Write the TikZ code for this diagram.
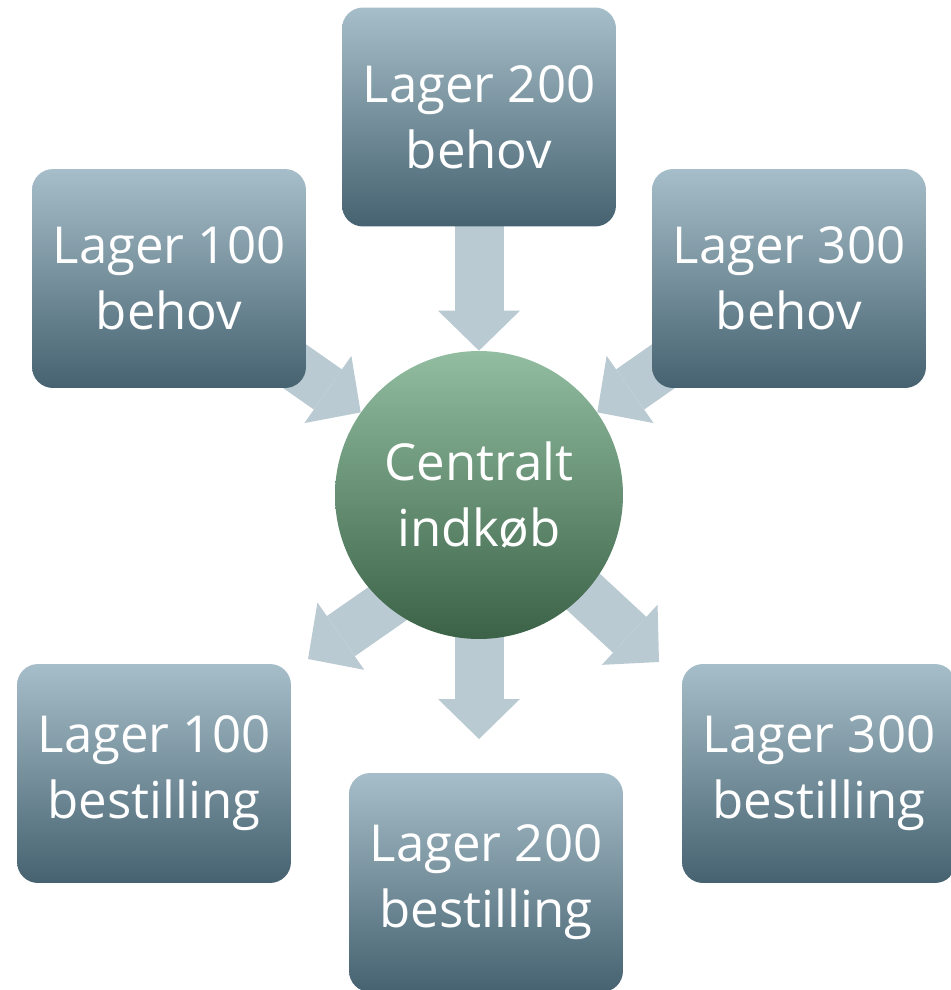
\documentclass[tikz,border=0pt]{standalone}
\usepackage{fontspec}
\setmainfont{Open Sans}
\usepackage{xcolor}
\usepackage{tikz}
\usetikzlibrary{arrows.meta}
\usetikzlibrary{backgrounds}

\definecolor{lagertop}{HTML}{A6BEC9}
\definecolor{lagermid}{HTML}{7799AA}
\definecolor{lagerbot}{HTML}{466270}
\definecolor{centop}{HTML}{92BDA0}
\definecolor{cenmid}{HTML}{5A9570}
\definecolor{cenbot}{HTML}{3B6247}
\definecolor{flowgrey}{HTML}{BACAD2}

\begin{document}
\begin{tikzpicture}[x=0.02cm, y=-0.02cm,
    lager/.style={rectangle, rounded corners=0.42cm, inner sep=0pt,
      minimum width=5.48cm, minimum height=4.38cm,
      top color=lagertop, middle color=lagermid, bottom color=lagerbot,
      text=white, align=center, font=\fontsize{29}{37.6}\selectfont},
    central/.style={circle, inner sep=0pt, minimum size=5.76cm,
      top color=centop, middle color=cenmid, bottom color=cenbot,
      text=white, align=center, font=\fontsize{29}{37.6}\selectfont},
    flow/.style={draw, color=flowgrey, line width=0.98cm,
      -{Triangle[length=0.8cm, width=1.64cm, line width=0pt, fill=flowgrey]}}]
      \useasboundingbox (0,0) rectangle (950,990);
      % behov
      \node[lager]   (beh200)  at (479,117)   {Lager 200\\behov};
      \node[lager]   (beh100)  at (169,278.5) {Lager 100\\behov};
      \node[lager]   (beh300)  at (789,278.5) {Lager 300\\behov};
      \node[central] (cen)     at (479,495)   {Centralt\\indkøb};
      % bestilling
      \node[lager]   (best100) at (154,773.5) {Lager 100\\bestilling};
      \node[lager]   (best200) at (486,882.5) {Lager 200\\bestilling};
      \node[lager]   (best300) at (819,773.5) {Lager 300\\bestilling};
      \coordinate (ind100) at (479,540);
      \coordinate (ud100)  at (308,659);
      \coordinate (ud200)  at (479,739);
      \coordinate (ud300)  at (659,662);
      \begin{scope}[on background layer]
        \path[flow]
          (beh100.center) edge (cen)
          (beh200.center) edge (cen)
          (beh300.center) edge (cen)
          (ind100)        edge (ud100)
          (cen.center)    edge (ud200)
          (cen.center)    edge (ud300);
      \end{scope}
    \end{tikzpicture}
\end{document}
